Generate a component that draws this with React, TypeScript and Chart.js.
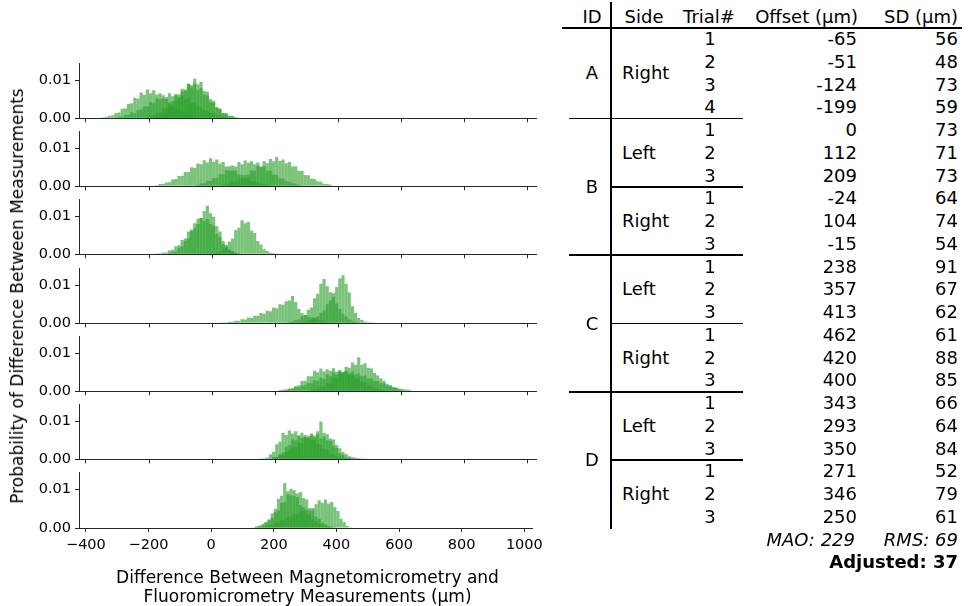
import React, { useEffect, useRef } from "react";
import { Chart, registerables } from "chart.js";

Chart.register(...registerables);

// ---------------- DATA ----------------
// Histogram bin width (µm)
const BIN_WIDTH = 10;
// Axis ticks
const X_TICKS = [-400, -200, 0, 200, 400, 600, 800, 1000];
const Y_TICKS = [0, 0.01];
const X_MIN = -422;
const X_MAX = 1027;
const Y_MAX = 0.0144;

// Each trial: left edge of its first bin (µm) and probability density per bin (in 1e-4 per µm)
const A1 = { start: -210, density: [4, 7, 8, 13, 15, 25, 28, 42, 45, 60, 63, 78, 76, 90, 82, 92, 74, 79, 62, 60, 43, 41, 27, 25, 14, 13, 7, 6, 3] };
const A2 = { start: -190, density: [2, 5, 6, 12, 15, 26, 31, 47, 52, 71, 74, 92, 88, 104, 90, 96, 72, 70, 50, 46, 30, 25, 14, 12, 6, 4, 2] };
const A3 = { start: -310, density: [3, 5, 5, 9, 9, 15, 14, 22, 23, 32, 31, 43, 41, 53, 50, 61, 56, 66, 58, 64, 57, 60, 49, 52, 41, 42, 31, 30, 22, 21, 14, 14, 9, 8, 5, 4] };
const A4 = { start: -350, density: [3, 4, 7, 8, 14, 15, 25, 26, 38, 40, 54, 52, 68, 62, 76, 66, 74, 63, 66, 52, 51, 39, 36, 25, 23, 15, 12, 8, 6, 3] };

const BL1 = { start: -180, density: [3, 6, 6, 10, 11, 18, 19, 27, 28, 38, 38, 50, 48, 60, 58, 69, 63, 74, 65, 71, 60, 64, 52, 53, 42, 42, 31, 30, 21, 21, 14, 13, 8, 7, 4, 4] };
const BL2 = { start: -50, density: [4, 8, 8, 13, 14, 21, 22, 32, 32, 43, 42, 55, 52, 64, 58, 68, 62, 66, 58, 63, 51, 53, 41, 41, 31, 30, 21, 20, 13, 12, 8, 7, 4] };
const BL3 = { start: 30, density: [4, 7, 7, 12, 13, 20, 21, 30, 31, 42, 41, 55, 52, 66, 61, 72, 66, 77, 67, 71, 61, 64, 52, 53, 41, 41, 30, 29, 20, 19, 13, 12, 7, 6, 4] };

const BR1 = { start: -180, density: [2, 3, 5, 5, 10, 12, 21, 24, 38, 42, 60, 63, 82, 80, 96, 88, 93, 80, 75, 54, 45, 27, 20, 11, 7, 3, 2] };
const BR2 = { start: -50, density: [1, 1, 2, 2, 2, 3, 5, 7, 14, 18, 34, 42, 64, 70, 90, 82, 86, 63, 56, 35, 26, 13, 9, 4, 3, 2] };
const BR3 = { start: -140, density: [3, 6, 8, 17, 21, 36, 42, 65, 70, 94, 96, 114, 128, 108, 99, 74, 60, 35, 25, 13, 9, 4, 3] };

const CL1 = { start: 20, density: [1, 2, 2, 4, 4, 7, 7, 11, 10, 15, 14, 20, 20, 27, 25, 33, 32, 42, 40, 50, 49, 58, 60, 72, 56, 38, 27, 22, 18, 15, 12, 10, 7, 5, 3, 2] };
const CL2 = { start: 230, density: [2, 3, 5, 9, 11, 18, 22, 36, 42, 66, 78, 104, 117, 98, 82, 70, 52, 38, 24, 18, 10, 7, 4, 2] };
const CL3 = { start: 270, density: [2, 3, 5, 8, 9, 15, 18, 28, 34, 50, 60, 80, 96, 118, 127, 104, 82, 45, 28, 14, 9, 5, 3, 2, 1] };

const CR1 = { start: 310, density: [3, 6, 7, 12, 14, 22, 23, 35, 37, 50, 51, 65, 62, 76, 70, 90, 70, 74, 62, 60, 48, 42, 34, 28, 20, 15, 11, 8, 5, 3, 2] };
const CR2 = { start: 210, density: [3, 4, 5, 7, 7, 11, 11, 16, 16, 22, 21, 29, 28, 36, 33, 44, 40, 49, 44, 53, 47, 54, 48, 52, 44, 47, 40, 42, 33, 34, 27, 27, 21, 21, 15, 15, 11, 10, 7, 6, 5, 4] };
const CR3 = { start: 210, density: [2, 3, 4, 7, 8, 14, 16, 27, 28, 40, 40, 54, 50, 60, 52, 58, 54, 61, 52, 57, 50, 52, 44, 44, 35, 33, 25, 23, 15, 14, 9, 7, 5, 4, 3, 2, 2, 1, 1] };

const DL1 = { start: 190, density: [5, 6, 11, 12, 20, 21, 31, 32, 44, 43, 58, 55, 68, 63, 74, 100, 70, 66, 55, 52, 38, 29, 19, 14, 8, 6, 4, 3, 2, 1] };
const DL2 = { start: 150, density: [2, 3, 5, 13, 20, 40, 46, 70, 64, 76, 68, 74, 63, 70, 58, 62, 50, 50, 40, 38, 27, 25, 16, 14, 9, 7, 4, 3, 2, 2, 1] };
const DL3 = { start: 180, density: [2, 4, 6, 13, 18, 33, 37, 52, 50, 62, 56, 64, 57, 63, 58, 66, 55, 60, 50, 49, 36, 30, 16, 12, 5, 4, 2, 2, 1] };

const DR1 = { start: 140, density: [4, 6, 11, 14, 23, 27, 42, 46, 66, 68, 88, 84, 98, 90, 94, 78, 74, 52, 46, 30, 24, 14, 10, 6, 3, 2, 1, 1] };
const DR2 = { start: 150, density: [2, 3, 4, 8, 8, 13, 14, 20, 21, 28, 28, 36, 36, 45, 44, 48, 46, 52, 62, 72, 66, 74, 64, 68, 54, 44, 24, 15, 5, 2] };
const DR3 = { start: 120, density: [1, 2, 3, 6, 7, 15, 20, 38, 50, 76, 84, 117, 96, 102, 84, 80, 60, 54, 38, 33, 22, 17, 11, 8, 4, 3, 2, 1] };

const PANELS = [
  [A1, A2, A3, A4],
  [BL1, BL2, BL3],
  [BR1, BR2, BR3],
  [CL1, CL2, CL3],
  [CR1, CR2, CR3],
  [DL1, DL2, DL3],
  [DR1, DR2, DR3],
];

// Table
const ROW_ID = ["A", "A", "A", "A", "B", "B", "B", "B", "B", "B", "C", "C", "C", "C", "C", "C", "D", "D", "D", "D", "D", "D"];
const ROW_SIDE = ["Right", "Right", "Right", "Right", "Left", "Left", "Left", "Right", "Right", "Right", "Left", "Left", "Left", "Right", "Right", "Right", "Left", "Left", "Left", "Right", "Right", "Right"];
const ROW_TRIAL = [1, 2, 3, 4, 1, 2, 3, 1, 2, 3, 1, 2, 3, 1, 2, 3, 1, 2, 3, 1, 2, 3];
const ROW_OFFSET = [-65, -51, -124, -199, 0, 112, 209, -24, 104, -15, 238, 357, 413, 462, 420, 400, 343, 293, 350, 271, 346, 250];
const ROW_SD = [56, 48, 73, 59, 73, 71, 73, 64, 74, 54, 91, 67, 62, 61, 88, 85, 66, 64, 84, 52, 79, 61];
const HEADERS = ["ID", "Side", "Trial#", "Offset (µm)", "SD (µm)"];
const MAO = 229;
const RMS = 69;
const ADJUSTED = 37;

const Y_TITLE = "Probability of Difference Between Measurements";
const X_TITLE = ["Difference Between Magnetomicrometry and", "Fluoromicrometry Measurements (µm)"];

// ---------------- LAYOUT ----------------
const W = 968;
const H = 606;
const FONT = "'DejaVu Sans', Verdana, sans-serif";
const PLOT_LEFT = 79;
const CANVAS_W = 548;
const PAD_RIGHT = 12;
const PAD_TOP = 12;
const BASE0 = 119;
const PANEL_STEP = 68.2;
const PANEL_H = 56;
const FILL = "rgba(44,160,44,0.63)";
const AXIS = "#262626";
const TABLE_FONT = 18;
const TICK_FONT = 14.5;

const fmtX = (v: number) => (v < 0 ? "\u2212" + Math.abs(v) : String(v));

function HistogramPanel({ index, trials, last }: { index: number; trials: any[]; last: boolean }) {
  const ref = useRef<HTMLCanvasElement | null>(null);
  const xH = last ? 30 : 12;
  const base = Math.round(BASE0 + index * PANEL_STEP);
  const top = base - PANEL_H - PAD_TOP;
  const height = PAD_TOP + PANEL_H + xH;

  useEffect(() => {
    if (!ref.current) return;
    const datasets = trials.map((t: any) => ({
      data: t.density.map((d: number, i: number) => ({
        x: t.start + BIN_WIDTH / 2 + i * BIN_WIDTH,
        y: d / 10000,
      })),
      backgroundColor: FILL,
      borderWidth: 0,
      grouped: false,
      barPercentage: 1,
      categoryPercentage: 1,
      inflateAmount: 0,
    }));
    const tickFont = { family: FONT, size: TICK_FONT };
    const chart = new Chart(ref.current, {
      type: "bar",
      data: { datasets } as any,
      options: {
        animation: false,
        responsive: false,
        events: [],
        layout: { padding: { top: PAD_TOP, right: PAD_RIGHT, left: 0, bottom: 0 } },
        plugins: { legend: { display: false }, tooltip: { enabled: false } },
        scales: {
          x: {
            type: "linear",
            min: X_MIN,
            max: X_MAX,
            offset: false,
            afterBuildTicks: (s: any) => {
              s.ticks = X_TICKS.map((v) => ({ value: v }));
            },
            afterFit: (s: any) => {
              s.height = xH;
            },
            ticks: {
              display: last,
              font: tickFont,
              color: "#000",
              padding: 5,
              maxRotation: 0,
              autoSkip: false,
              callback: (v: any) => fmtX(Number(v)),
            },
            grid: { offset: false, drawOnChartArea: false, drawTicks: true, tickLength: 4, color: AXIS, lineWidth: 1 },
            border: { display: true, color: AXIS, width: 1 },
          },
          y: {
            type: "linear",
            min: 0,
            max: Y_MAX,
            afterBuildTicks: (s: any) => {
              s.ticks = Y_TICKS.map((v) => ({ value: v }));
            },
            afterFit: (s: any) => {
              s.width = PLOT_LEFT;
            },
            ticks: {
              font: tickFont,
              color: "#000",
              padding: 4,
              callback: (v: any) => Number(v).toFixed(2),
            },
            grid: { drawOnChartArea: false, drawTicks: true, tickLength: 4, color: AXIS, lineWidth: 1 },
            border: { display: true, color: AXIS, width: 1 },
          },
        },
      } as any,
    });
    return () => chart.destroy();
  }, []);

  return (
    <canvas
      ref={ref}
      width={CANVAS_W}
      height={height}
      style={{ position: "absolute", left: 0, top, width: CANVAS_W, height }}
    />
  );
}

function Txt({ x, y, align, children, style }: { x: number; y: number; align: "left" | "center" | "right"; children: any; style?: any }) {
  const s: any = {
    position: "absolute",
    top: y - 12,
    height: 24,
    lineHeight: "24px",
    whiteSpace: "nowrap",
    fontFamily: FONT,
    fontSize: TABLE_FONT,
    color: "#000",
    ...style,
  };
  if (align === "left") s.left = x;
  else if (align === "right") s.right = W - x;
  else {
    s.left = x;
    s.transform = "translateX(-50%)";
  }
  return <div style={s}>{children}</div>;
}

function HLine({ x1, x2, y }: { x1: number; x2: number; y: number }) {
  return <div style={{ position: "absolute", left: x1, top: y - 0.75, width: x2 - x1, height: 1.5, background: "#000" }} />;
}

const ROW0_Y = 39;
const ROW_STEP = 22.76;
const HEADER_Y = 17;
const COL_ID = 592;
const COL_SIDE = 622;
const COL_TRIAL = 710;
const COL_OFFSET = 857;
const COL_SD = 958;
const VLINE_X = 611;
const LINE_LEFT = 569;
const LINE_RIGHT = 743;

function Table() {
  const rowY = (r: number) => ROW0_Y + r * ROW_STEP;
  const items: any[] = [];
  const groups = (keyFn: (i: number) => string) => {
    const res: { from: number; to: number; label: string }[] = [];
    let s = 0;
    for (let i = 1; i <= ROW_ID.length; i++) {
      if (i === ROW_ID.length || keyFn(i) !== keyFn(s)) {
        res.push({ from: s, to: i - 1, label: keyFn(s) });
        s = i;
      }
    }
    return res;
  };
  const idGroups = groups((i) => ROW_ID[i]);
  const sideGroups = groups((i) => ROW_ID[i] + "|" + ROW_SIDE[i]);

  idGroups.forEach((g, k) => {
    items.push(<Txt key={"id" + k} x={COL_ID} y={(rowY(g.from) + rowY(g.to)) / 2} align="center">{g.label}</Txt>);
    if (k < idGroups.length - 1) items.push(<HLine key={"idl" + k} x1={LINE_LEFT} x2={LINE_RIGHT} y={rowY(g.to) + ROW_STEP / 2} />);
  });
  sideGroups.forEach((g, k) => {
    items.push(<Txt key={"sd" + k} x={COL_SIDE} y={(rowY(g.from) + rowY(g.to)) / 2} align="left">{ROW_SIDE[g.from]}</Txt>);
    const nextSameId = k < sideGroups.length - 1 && ROW_ID[sideGroups[k + 1].from] === ROW_ID[g.from];
    if (nextSameId) items.push(<HLine key={"sdl" + k} x1={VLINE_X} x2={LINE_RIGHT} y={rowY(g.to) + ROW_STEP / 2} />);
  });
  ROW_TRIAL.forEach((t, r) => {
    items.push(<Txt key={"t" + r} x={COL_TRIAL} y={rowY(r)} align="center">{t}</Txt>);
    items.push(<Txt key={"o" + r} x={COL_OFFSET} y={rowY(r)} align="right">{String(ROW_OFFSET[r])}</Txt>);
    items.push(<Txt key={"s" + r} x={COL_SD} y={rowY(r)} align="right">{String(ROW_SD[r])}</Txt>);
  });
  const n = ROW_ID.length;
  return (
    <>
      <Txt x={COL_ID} y={HEADER_Y} align="center">{HEADERS[0]}</Txt>
      <Txt x={644} y={HEADER_Y} align="center">{HEADERS[1]}</Txt>
      <Txt x={709} y={HEADER_Y} align="center">{HEADERS[2]}</Txt>
      <Txt x={858} y={HEADER_Y} align="right">{HEADERS[3]}</Txt>
      <Txt x={COL_SD} y={HEADER_Y} align="right">{HEADERS[4]}</Txt>
      <HLine x1={562} x2={962} y={28} />
      <div style={{ position: "absolute", left: VLINE_X - 0.75, top: 2, width: 1.5, height: rowY(n - 1) + 12 - 2, background: "#000" }} />
      {items}
      <Txt x={855} y={rowY(n)} align="right" style={{ fontStyle: "italic" }}>{"MAO: " + MAO}</Txt>
      <Txt x={COL_SD} y={rowY(n)} align="right" style={{ fontStyle: "italic" }}>{"RMS: " + RMS}</Txt>
      <Txt x={COL_SD} y={rowY(n + 1)} align="right" style={{ fontWeight: "bold" }}>{"Adjusted: " + ADJUSTED}</Txt>
    </>
  );
}

export default function App() {
  Chart.defaults.font.family = FONT;
  return (
    <div style={{ position: "absolute", left: 0, top: 0, width: W, height: H, background: "#fff", overflow: "hidden" }}>
      {PANELS.map((trials, i) => (
        <HistogramPanel key={i} index={i} trials={trials} last={i === PANELS.length - 1} />
      ))}
      <div
        style={{
          position: "absolute",
          left: 17,
          top: 296,
          transform: "translate(-50%, -50%) rotate(-90deg)",
          whiteSpace: "nowrap",
          fontFamily: FONT,
          fontSize: 17,
          color: "#000",
        }}
      >
        {Y_TITLE}
      </div>
      {X_TITLE.map((line, i) => (
        <Txt key={i} x={307.5} y={577 + i * 19} align="center" style={{ fontSize: 17 }}>{line}</Txt>
      ))}
      <Table />
    </div>
  );
}
